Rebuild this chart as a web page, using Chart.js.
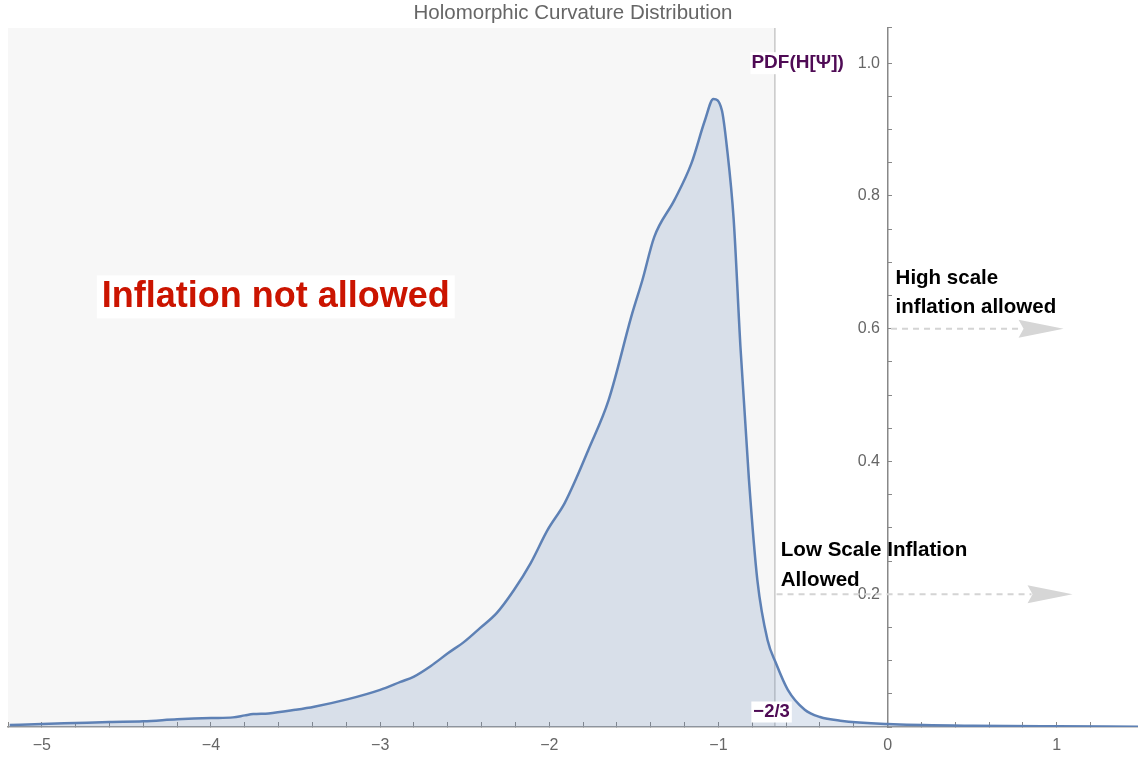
<!DOCTYPE html>
<html>
<head>
<meta charset="utf-8">
<script src="https://cdn.jsdelivr.net/npm/chart.js@4/dist/chart.umd.min.js"></script>
<style>
html,body{margin:0;padding:0;background:#ffffff;}
#wrap{width:1138px;height:757px;position:relative;}
</style>
</head>
<body>
<div id="wrap"><canvas id="c"></canvas></div>
<script>
// ---- data ----
const curveX = [-5.19,-5.0,-4.8,-4.6,-4.4,-4.2,-4.0,-3.87,-3.8,-3.75,-3.66,-3.5,-3.39,-3.19,-3.0,-2.88,-2.8,-2.7,-2.6,-2.5,-2.41,-2.31,-2.21,-2.11,-2.01,-1.91,-1.84,-1.77,-1.65,-1.51,-1.45,-1.38,-1.26,-1.16,-1.08,-1.03,-0.98,-0.95,-0.91,-0.87,-0.82,-0.77,-0.71,-0.66,-0.59,-0.49,-0.40,-0.28,0.0,0.5,1.0,1.48];
const curveY = [0.003,0.0045,0.006,0.0075,0.0085,0.0115,0.0135,0.0145,0.0175,0.0195,0.0205,0.026,0.0306,0.042,0.056,0.068,0.076,0.092,0.111,0.129,0.149,0.172,0.206,0.247,0.297,0.337,0.375,0.417,0.492,0.623,0.673,0.738,0.794,0.849,0.914,0.946,0.929,0.873,0.764,0.572,0.373,0.221,0.131,0.096,0.056,0.026,0.015,0.0095,0.0045,0.002,0.001,0.0005];
const xTickValues = [-5,-4,-3,-2,-1,0,1];
const xTickLabels = ['\u22125','\u22124','\u22123','\u22122','\u22121','0','1'];
const yTickValues = [0.2,0.4,0.6,0.8,1.0];
const yTickLabels = ['0.2','0.4','0.6','0.8','1.0'];
const cutoffValue = -2/3;
const chartTitle = 'Holomorphic Curvature Distribution';
const seriesName = 'PDF(H[\u03A8])';
const cutoffLabel = '\u22122/3';
const regionLabel = 'Inflation not allowed';
const highLabel = ['High scale','inflation allowed'];
const lowLabel = ['Low Scale Inflation','Allowed'];
const highArrowLevel = 0.6;
const lowArrowLevel = 0.2;

const FONT = "'Liberation Sans', Arial, Helvetica, sans-serif";

function labelFor(values, labels, v) {
  for (let i = 0; i < values.length; i++) {
    if (Math.abs(values[i] - v) < 1e-6) return labels[i];
  }
  return '';
}

const points = curveX.map((x, i) => ({x: x, y: curveY[i]}));

function drawTextBox(ctx, text, x, y, font, color, align, bg) {
  ctx.font = font;
  ctx.textAlign = align;
  ctx.textBaseline = 'middle';
  if (bg) {
    const w = ctx.measureText(text).width;
    let left = align === 'center' ? x - w/2 : (align === 'right' ? x - w : x);
    ctx.fillStyle = bg.color;
    ctx.fillRect(left - bg.padX, y - bg.h/2, w + 2*bg.padX, bg.h);
  }
  ctx.fillStyle = color;
  ctx.fillText(text, x, y);
}

function drawArrow(ctx, x0, x1, y) {
  const headLen = 45, headHalf = 9;
  ctx.save();
  ctx.strokeStyle = '#d4d4d4';
  ctx.lineWidth = 2;
  ctx.setLineDash([6,5]);
  ctx.beginPath();
  ctx.moveTo(x0, y);
  ctx.lineTo(x1 - headLen + 4, y);
  ctx.stroke();
  ctx.setLineDash([]);
  ctx.fillStyle = '#d6d6d6';
  ctx.beginPath();
  ctx.moveTo(x1, y);
  ctx.lineTo(x1 - headLen, y - headHalf);
  ctx.lineTo(x1 - headLen + 5, y);
  ctx.lineTo(x1 - headLen, y + headHalf);
  ctx.closePath();
  ctx.fill();
  ctx.restore();
}

const decorPlugin = {
  id: 'decor',
  beforeDraw(chart) {
    const {ctx, chartArea: a, scales: {x}} = chart;
    const xc = x.getPixelForValue(cutoffValue);
    ctx.save();
    ctx.fillStyle = '#f7f7f7';
    ctx.fillRect(a.left, a.top, xc - a.left, a.bottom - a.top);
    ctx.strokeStyle = '#c8c8c8';
    ctx.lineWidth = 1.5;
    ctx.beginPath();
    ctx.moveTo(xc, a.top);
    ctx.lineTo(xc, a.bottom);
    ctx.stroke();
    ctx.restore();
  },
  afterDraw(chart) {
    const {ctx, scales: {x, y}} = chart;
    ctx.save();
    drawArrow(ctx, x.getPixelForValue(0.02), x.getPixelForValue(1.04), y.getPixelForValue(highArrowLevel));
    drawArrow(ctx, x.getPixelForValue(cutoffValue + 0.01), x.getPixelForValue(1.093), y.getPixelForValue(lowArrowLevel));
    drawTextBox(ctx, regionLabel, x.getPixelForValue(-3.617), y.getPixelForValue(0.648),
      "bold 36px " + FONT, '#cb1400', 'center', {color:'#ffffff', padX:5, h:43});
    drawTextBox(ctx, seriesName, x.getPixelForValue(-0.532), y.getPixelForValue(1.0),
      "bold 19px " + FONT, '#4f0b55', 'center', {color:'#ffffff', padX:1, h:22});
    drawTextBox(ctx, cutoffLabel, x.getPixelForValue(-0.686), y.getPixelForValue(0.0226),
      "bold 18.5px " + FONT, '#4f0b55', 'center', {color:'#ffffff', padX:2, h:21});
    drawTextBox(ctx, highLabel[0], x.getPixelForValue(0.047), y.getPixelForValue(0.676),
      "bold 20.5px " + FONT, '#000000', 'left', null);
    drawTextBox(ctx, highLabel[1], x.getPixelForValue(0.047), y.getPixelForValue(0.6325),
      "bold 20.5px " + FONT, '#000000', 'left', null);
    drawTextBox(ctx, lowLabel[0], x.getPixelForValue(-0.632), y.getPixelForValue(0.2666),
      "bold 20.6px " + FONT, '#000000', 'left', null);
    drawTextBox(ctx, lowLabel[1], x.getPixelForValue(-0.632), y.getPixelForValue(0.221),
      "bold 20.6px " + FONT, '#000000', 'left', null);
    ctx.restore();
  }
};

new Chart(document.getElementById('c'), {
  type: 'line',
  data: {
    datasets: [{
      label: seriesName,
      data: points,
      borderColor: '#5e81b5',
      borderWidth: 2.5,
      backgroundColor: 'rgba(94,129,181,0.2)',
      fill: 'origin',
      pointRadius: 0,
      cubicInterpolationMode: 'monotone',
      tension: 0.4
    }]
  },
  options: {
    responsive: true,
    maintainAspectRatio: false,
    animation: false,
    devicePixelRatio: 1,
    layout: { padding: { left: 8, right: 0, top: 0, bottom: 0 } },
    plugins: {
      legend: { display: false },
      tooltip: { enabled: false },
      title: {
        display: true,
        text: chartTitle,
        color: '#666666',
        font: { family: FONT, size: 20.5, weight: 'normal' },
        padding: { top: 1, bottom: 2.4 }
      }
    },
    scales: {
      x: {
        type: 'linear',
        position: 'bottom',
        min: -5.2,
        max: 1.48,
        border: { display: true, color: '#999999', width: 1.5 },
        grid: { drawOnChartArea: false, drawTicks: true, tickLength: -5, tickColor: '#888888', tickWidth: 1 },
        ticks: {
          stepSize: 0.2,
          autoSkip: false,
          maxRotation: 0,
          padding: 14,
          color: '#666666',
          font: { family: FONT, size: 16 },
          callback: (v) => labelFor(xTickValues, xTickLabels, v)
        },
        afterFit: (s) => { s.height = 30; s.paddingLeft = 0; s.paddingRight = 0; }
      },
      y: {
        type: 'linear',
        position: { x: 0 },
        min: 0,
        max: 1.053,
        border: { display: true, color: '#888888', width: 1.5 },
        grid: { drawOnChartArea: false, drawTicks: true, tickLength: -5, tickColor: '#888888', tickWidth: 1 },
        ticks: {
          stepSize: 0.05,
          autoSkip: false,
          padding: 12,
          color: '#666666',
          font: { family: FONT, size: 16 },
          callback: (v) => { const t = labelFor(yTickValues, yTickLabels, v); return t ? t + '\u00a0\u2009' : ''; }
        },
        afterFit: (s) => { s.paddingTop = 0; s.paddingBottom = 0; }
      }
    }
  },
  plugins: [decorPlugin]
});
</script>
</body>
</html>
